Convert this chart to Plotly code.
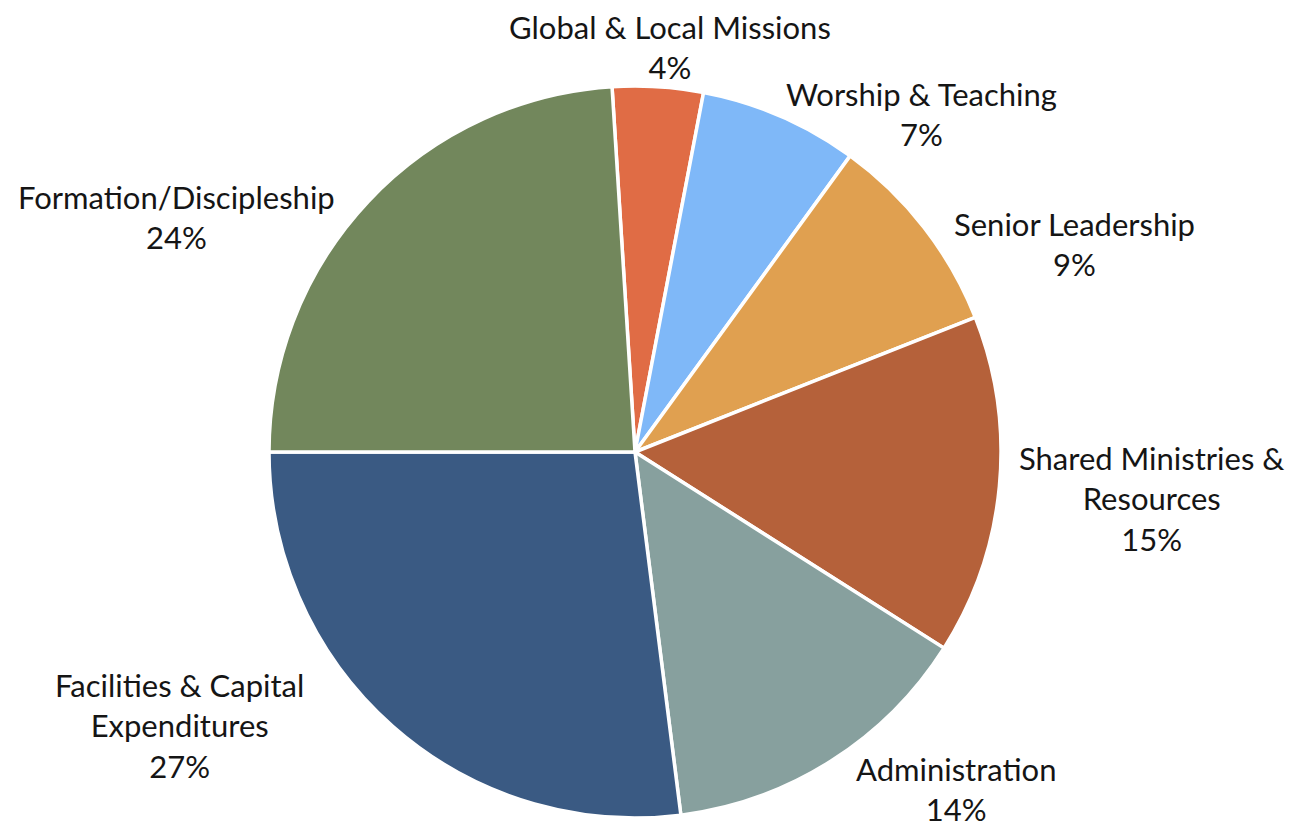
import plotly.graph_objects as go

labels = ["Global & Local Missions", "Worship & Teaching", "Senior Leadership",
          "Shared Ministries &<br>Resources", "Administration",
          "Facilities & Capital<br>Expenditures", "Formation/Discipleship"]
values = [4, 7, 9, 15, 14, 27, 24]
colors = ["#E06C45", "#7FB8F8", "#E0A050", "#B5613A", "#87A09E", "#3A5A83", "#72875C"]

# label centre positions (pixels in page) - layout only
label_pos = [(670, 47), (921, 114), (1074, 244), (1151, 498),
             (956, 789), (179, 725), (176, 217)]

W, H = 1307, 836
OFF = 8  # page body margin
cx, cy, r = 635 - OFF, 452 - OFF, 366

fig = go.Figure(go.Pie(
    labels=labels, values=values, sort=False, direction="clockwise",
    rotation=-3.6,
    marker=dict(colors=colors, line=dict(color="white", width=3.5)),
    textinfo="none", hoverinfo="label+percent",
    showlegend=False,
    domain=dict(x=[(cx - r) / W, (cx + r) / W], y=[(H - cy - r) / H, (H - cy + r) / H]),
))

for lab, val, (px, py) in zip(labels, values, label_pos):
    fig.add_annotation(
        x=(px - OFF) / W, y=1 - (py - OFF) / H, xref="paper", yref="paper",
        text=f"{lab}<br>{val}%", showarrow=False, align="center",
        xanchor="center", yanchor="middle", borderpad=0,
        font=dict(family="Lato", size=31, color="#151515"),
    )

fig.update_layout(width=W, height=H, margin=dict(l=0, r=0, t=0, b=0),
                  paper_bgcolor="white", plot_bgcolor="white")
fig.write_html("out.html")
